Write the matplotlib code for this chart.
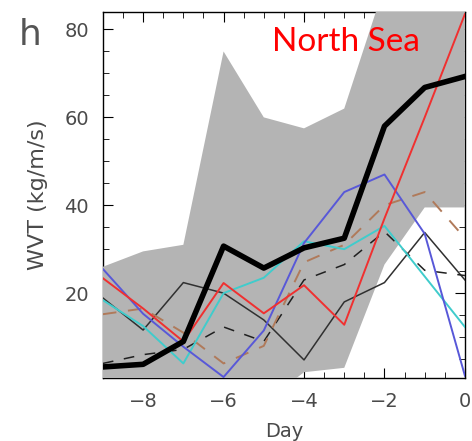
import matplotlib
matplotlib.use('Agg')
import matplotlib.pyplot as plt
import numpy as np

days = np.arange(-9, 1)

# spread of all events (grey band)
band_lo = [-5, -5, -5, -5, -5, 2, 3, 26.5, 39.5, 39.5]
band_hi = [26, 29.5, 31, 75, 60, 57.5, 62, 90, 100, 100]

# composite mean
wvt_mean = [3.2, 3.8, 9, 30.7, 25.7, 30.3, 32.5, 58, 66.8, 69.3]

# individual events
ev_red = [23.4, 16.5, 9, 22.3, 15.4, 21.8, 12.8, 37, 60, 83.5]
ev_blue = [25.5, 15.3, 7.8, 0.9, 11.5, 31.4, 43, 47, 33.5, 1.2]
ev_cyan = [18.4, 12.5, 4, 20, 23.5, 31.8, 30, 35.3, 23.8, 12.3]
ev_black = [18.9, 11.6, 22.4, 20, 13.9, 4.8, 18, 22.4, 33.8, 23]
ev_dash = [4, 6, 7.2, 12.3, 9, 23, 26.5, 34, 25.2, 24]
ev_brown = [15.2, 16.5, 11, 4, 8, 27, 31, 40, 43, 32.5]

fig = plt.figure(figsize=(4.72, 4.41), dpi=100)
ax = fig.add_axes([0.218, 0.143, 0.767, 0.830])

ax.fill_between(days, band_lo, band_hi, color='#b4b4b4', lw=0, zorder=1)

ax.plot(days, ev_black, color='#303030', lw=1.1, zorder=2)
ax.plot(days, ev_dash, color='#202020', lw=1.1, ls=(0, (7, 7)), zorder=2)
ax.plot(days, ev_brown, color='#b07a5a', lw=1.4, ls=(0, (7, 6)), zorder=2)
ax.plot(days, ev_cyan, color='#40cccc', lw=1.4, zorder=2)
ax.plot(days, ev_blue, color='#5858d8', lw=1.4, zorder=2)
ax.plot(days, ev_red, color='#f03030', lw=1.4, zorder=2)
ax.plot(days, wvt_mean, color='black', lw=4.0, zorder=3)

ax.set_xlim(-9, 0)
ax.set_ylim(0.7, 84)
ax.set_xticks([-8, -6, -4, -2, 0])
ax.set_xticklabels(['\u22128', '\u22126', '\u22124', '\u22122', '0'])
ax.set_xticks(np.arange(-9, 0.01, 0.5), minor=True)
ax.set_yticks([20, 40, 60, 80])
ax.set_yticks(np.arange(5, 84, 5), minor=True)

ax.set_axisbelow(True)
for s in ax.spines.values():
    s.set_zorder(0.5)
    s.set_linewidth(1.0)

ax.tick_params(which='both', direction='in', top=True, right=True,
               labelsize=14, labelcolor='#4a4a4a', pad=10)
ax.tick_params(which='major', length=7)
ax.tick_params(which='minor', length=4)

ax.set_xlabel('Day', fontsize=14, color='#4a4a4a', labelpad=8)
ax.set_ylabel('WVT (kg/m/s)', fontsize=16, color='#4a4a4a', labelpad=12)

ax.text(0.468, 0.918, 'North Sea', transform=ax.transAxes, color='red',
        fontsize=24, family='Lato', va='center', ha='left', zorder=5)
fig.text(0.065, 0.92, 'h', fontsize=26, color='#555555', ha='center', va='center')

fig.savefig('out.png', dpi=100)
